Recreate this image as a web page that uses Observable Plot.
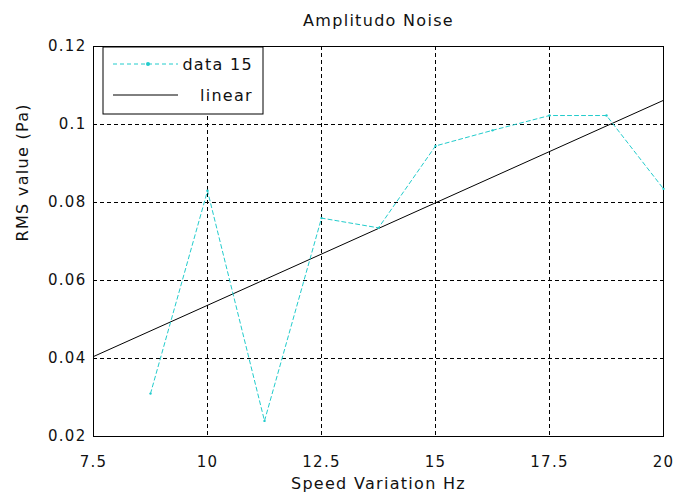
<!DOCTYPE html>
<html>
<head>
<meta charset="utf-8">
<script src="https://cdn.jsdelivr.net/npm/d3@7"></script>
<script src="https://cdn.jsdelivr.net/npm/@observablehq/plot@0.6"></script>
<style>
  html, body { margin: 0; padding: 0; background: white; }
  #chart { width: 673px; height: 492px; }
  .sp { letter-spacing: 1.3px; }
</style>
</head>
<body>
<div id="chart"></div>
<script>
// ---- data ----
const speedHz = [8.75, 10, 11.25, 12.5, 13.75, 15, 16.25, 17.5, 18.75, 20];
const rmsPa   = [0.031, 0.083, 0.024, 0.076, 0.0735, 0.0945, 0.0985, 0.1023, 0.1023, 0.0835];
const linearX = [7.5, 20];
const linearY = [0.0405, 0.1062];
const xTicks = [7.5, 10, 12.5, 15, 17.5, 20];
const xTickLabels = ["7.5", "10", "12.5", "15", "17.5", "20"];
const yTicks = [0.02, 0.04, 0.06, 0.08, 0.1, 0.12];
const yTickLabels = ["0.02", "0.04", "0.06", "0.08", "0.1", "0.12"];
const seriesNames = ["data 15", "linear"];
const titleText = "Amplitudo Noise";
const xLabelText = "Speed Variation Hz";
const yLabelText = "RMS value (Pa)";

const data = speedHz.map((x, i) => ({x, y: rmsPa[i]}));
const fit = linearX.map((x, i) => ({x, y: linearY[i]}));
const cyan = "#22cccc";
const font = "DejaVu Sans";

const plot = Plot.plot({
  width: 673,
  height: 492,
  marginLeft: 93,
  marginRight: 10,
  marginTop: 46,
  marginBottom: 56,
  style: {fontFamily: font, fontSize: "15px", background: "white", color: "#111", overflow: "visible"},
  x: {domain: [7.5, 20], label: null},
  y: {domain: [0.02, 0.12], label: null},
  marks: [
    Plot.gridX(xTicks, {stroke: "black", strokeOpacity: 1, strokeDasharray: "4,3"}),
    Plot.gridY(yTicks, {stroke: "black", strokeOpacity: 1, strokeDasharray: "4,3"}),
    Plot.frame({stroke: "black", strokeWidth: 1}),
    Plot.line(fit, {x: "x", y: "y", stroke: "black", strokeWidth: 1}),
    Plot.line(data, {x: "x", y: "y", stroke: cyan, strokeWidth: 1, strokeDasharray: "4,3"}),
    Plot.dot(data, {x: "x", y: "y", r: 1.2, fill: cyan, stroke: null}),
    Plot.axisX(xTicks, {tickSize: 0, tickPadding: 20, tickFormat: (d, i) => xTickLabels[i], fontSize: 15, label: null, className: "sp"}),
    Plot.axisY(yTicks, {tickSize: 0, tickPadding: 7, tickFormat: (d, i) => yTickLabels[i], fontSize: 15, label: null, className: "sp"}),
    Plot.text([titleText], {frameAnchor: "top", dy: -26, lineAnchor: "middle", fontSize: 16, fill: "#111", className: "sp"}),
    Plot.text([xLabelText], {frameAnchor: "bottom", dy: 47, lineAnchor: "middle", fontSize: 16, fill: "#111", className: "sp"}),
    Plot.text([yLabelText], {frameAnchor: "left", dx: -71, rotate: -90, lineAnchor: "middle", fontSize: 16, fill: "#111", className: "sp"})
  ]
});

// legend box in the top-left corner of the axes
const svg = d3.select(plot);
const lg = svg.append("g").attr("transform", "translate(103,47)");
lg.append("rect").attr("x", 0).attr("y", 0).attr("width", 160).attr("height", 67)
  .attr("fill", "white").attr("stroke", "black").attr("stroke-width", 1);
lg.append("line").attr("x1", 10).attr("x2", 75).attr("y1", 17).attr("y2", 17)
  .attr("stroke", cyan).attr("stroke-dasharray", "4,3");
lg.append("circle").attr("cx", 45).attr("cy", 17).attr("r", 2).attr("fill", cyan);
lg.append("line").attr("x1", 10).attr("x2", 75).attr("y1", 48).attr("y2", 48)
  .attr("stroke", "black");
lg.append("text").attr("x", 150).attr("y", 17).attr("dy", "0.35em").attr("text-anchor", "end")
  .attr("font-family", font).attr("font-size", 16).attr("class", "sp").attr("fill", "#111").text(seriesNames[0]);
lg.append("text").attr("x", 150).attr("y", 48).attr("dy", "0.35em").attr("text-anchor", "end")
  .attr("font-family", font).attr("font-size", 16).attr("class", "sp").attr("fill", "#111").text(seriesNames[1]);

document.getElementById("chart").appendChild(plot);
</script>
</body>
</html>
